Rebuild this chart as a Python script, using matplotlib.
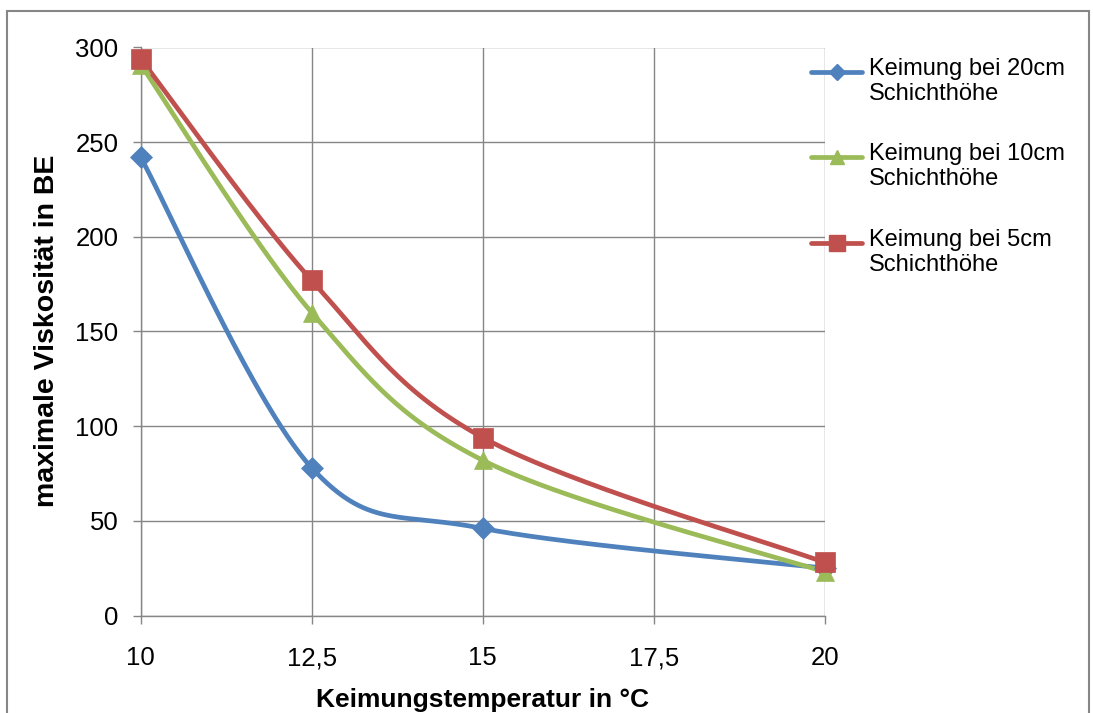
import numpy as np
import matplotlib
matplotlib.use("Agg")
import matplotlib.pyplot as plt
from matplotlib.lines import Line2D
from matplotlib.patches import Rectangle

plt.rcParams['font.family'] = ['Liberation Sans', 'DejaVu Sans']

temps = [10, 12.5, 15, 20]
visc_20cm = [242, 78, 46, 25]
visc_10cm = [291, 160, 82, 23]
visc_5cm = [294, 177, 94, 28]
series_labels = ["Keimung bei 20cm\nSchichthöhe",
                 "Keimung bei 10cm\nSchichthöhe",
                 "Keimung bei 5cm\nSchichthöhe"]
xticks = [10, 12.5, 15, 17.5, 20]
xtick_labels = ["10", "12,5", "15", "17,5", "20"]
yticks = [0, 50, 100, 150, 200, 250, 300]

colors = ["#4F81BD", "#9BBB59", "#C0504D"]
markers = ["D", "^", "s"]
msizes = [11.5, 13, 14]
leg_msizes = [8, 9.5, 11]


def smooth(xs, ys, n=60):
    x = np.asarray(xs, float)
    y = np.asarray(ys, float)
    xp = np.concatenate([[x[0]], x, [x[-1]]])
    yp = np.concatenate([[y[0]], y, [y[-1]]])
    ox, oy = [], []
    t = np.linspace(0, 1, n)
    for i in range(len(x) - 1):
        p0 = np.array([xp[i + 1], yp[i + 1]])
        p3 = np.array([xp[i + 2], yp[i + 2]])
        c1 = p0 + (np.array([xp[i + 2], yp[i + 2]]) - np.array([xp[i], yp[i]])) / 6
        c2 = p3 - (np.array([xp[i + 3], yp[i + 3]]) - np.array([xp[i + 1], yp[i + 1]])) / 6
        b = ((1 - t) ** 3)[:, None] * p0 + (3 * (1 - t) ** 2 * t)[:, None] * c1 \
            + (3 * (1 - t) * t ** 2)[:, None] * c2 + (t ** 3)[:, None] * p3
        ox.extend(b[:, 0])
        oy.extend(b[:, 1])
    return ox, oy


W, H = 1093, 713
fig = plt.figure(figsize=(W / 100, H / 100), dpi=100)
ax = fig.add_axes([140.7 / W, 1 - 615.5 / H, (824.7 - 140.7) / W, (615.5 - 47.5) / H])

# outer chart border
fig.add_artist(Rectangle((7 / W, -0.1), (1089 - 7) / W, 1.1 - 11.5 / H,
                         transform=fig.transFigure, fill=False,
                         edgecolor="#868686", linewidth=1.5))

for vals, c, m, ms in zip([visc_20cm, visc_10cm, visc_5cm], colors, markers, msizes):
    sx, sy = smooth(temps, vals)
    ax.plot(sx, sy, color=c, linewidth=3.4, solid_capstyle='round', zorder=3, clip_on=False)
    ax.plot(temps, vals, linestyle='none', marker=m, markersize=ms, color=c,
            markeredgecolor=c, markeredgewidth=0.5, zorder=4, clip_on=False)

ax.set_xlim(10, 20)
ax.set_ylim(0, 300)
ax.set_xticks(xticks)
ax.set_xticklabels(xtick_labels)
ax.set_yticks(yticks)
ax.grid(True, color="#868686", linewidth=1)
ax.set_axisbelow(True)
for s in ["top", "right"]:
    ax.spines[s].set_visible(False)
for s in ["left", "bottom"]:
    ax.spines[s].set_color("#868686")
    ax.spines[s].set_linewidth(1)
ax.tick_params(axis='x', direction='out', length=6, width=1, color="#868686",
               labelsize=18.5, pad=16)
ax.tick_params(axis='y', direction='out', length=6, width=1, color="#868686",
               labelsize=18.5, pad=10)

ax.set_xlabel("Keimungstemperatur in °C", fontsize=19, fontweight='bold', labelpad=13)
ax.set_ylabel("maximale Viskosität in BE", fontsize=20.5, fontweight='bold')
ax.yaxis.set_label_coords((60 - 140.7) / (824.7 - 140.7), (615.5 - 331) / (615.5 - 47.5))

# legend
leg_y = [72, 157, 243]
for yy, c, m, ms, lab in zip(leg_y, colors, markers, leg_msizes, series_labels):
    fy = 1 - yy / H
    fig.add_artist(Line2D([811 / W, 862 / W], [fy, fy], transform=fig.transFigure,
                          color=c, linewidth=3.4, solid_capstyle='round'))
    fig.add_artist(Line2D([837 / W], [fy], transform=fig.transFigure, marker=m,
                          markersize=ms, color=c, linestyle='none'))
    fig.text(869 / W, fy + 14 / H, lab, fontsize=17, va='top', ha='left',
             linespacing=1.15)

fig.savefig("out.png", dpi=100)
